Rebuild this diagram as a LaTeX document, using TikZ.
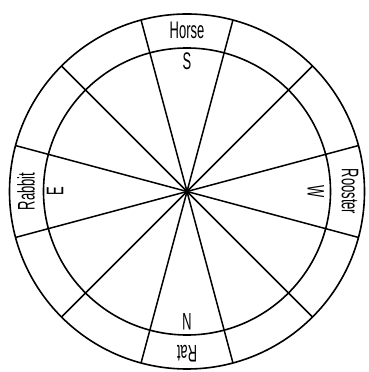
\documentclass[tikz,border=0pt]{standalone}
\usepackage{fontspec}
\setmainfont{Liberation Sans}
\usepackage{graphicx}
\usetikzlibrary{calc}
\newcommand{\narrowtext}[1]{\scalebox{0.54}[1]{#1}}

\begin{document}
\begin{tikzpicture}[
    x=1pt, y=1pt,
    ring/.style={line width=1.6pt},
    spoke/.style={line width=1.5pt},
    lbl/.style={inner sep=0pt, font=\fontsize{24}{24}\selectfont}
]
    \useasboundingbox (0,0) rectangle (368,372);
    \coordinate (c) at (187,180.5);

    % Circles
    \draw[ring] (c) circle (177.5);
    \draw[ring] (c) circle (143.5);

    % Spokes
    \foreach \a in {15,45,...,345}
        \draw[spoke] (c) -- ($(c)+(\a:177.5)$);

    % Animals in the outer ring
    \node[lbl, rotate=0] (horse) at ($(c)+(90:161)$) {\narrowtext{Horse}};
    \node[lbl, rotate=90] (rabbit) at ($(c)+(180:161)$) {\narrowtext{Rabbit}};
    \node[lbl, rotate=-90] (rooster) at ($(c)+(0:163)$) {\narrowtext{Rooster}};
    \node[lbl, rotate=180] (rat) at ($(c)+(270:162)$) {\narrowtext{Rat}};

    % Directions inside the inner circle
    \node[lbl, rotate=0] (south) at ($(c)+(90:130)$) {\narrowtext{S}};
    \node[lbl, rotate=90] (east) at ($(c)+(180:132)$) {\narrowtext{E}};
    \node[lbl, rotate=-90] (west) at ($(c)+(0:129)$) {\narrowtext{W}};
    \node[lbl, rotate=180] (north) at ($(c)+(270:130)$) {\narrowtext{N}};
\end{tikzpicture}
\end{document}
